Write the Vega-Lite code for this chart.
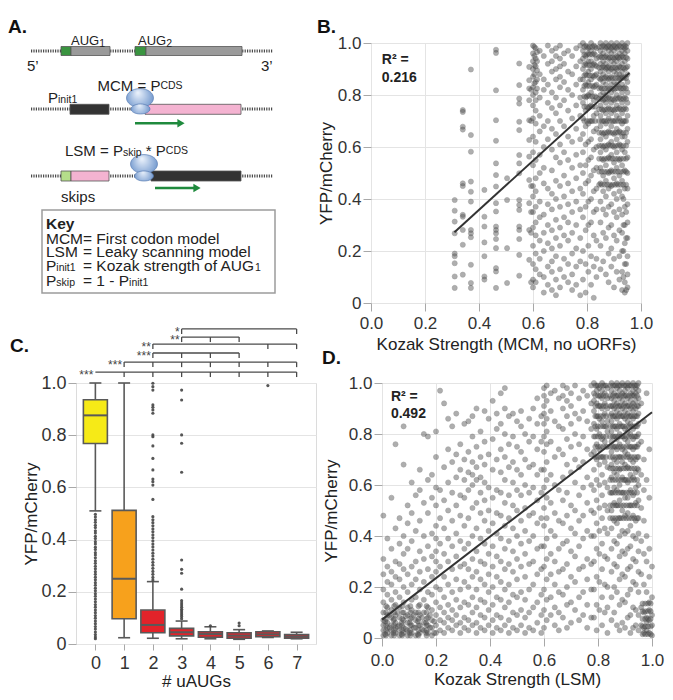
{
  "$schema": "https://vega.github.io/schema/vega-lite/v6.json",
  "background": "white",
  "padding": {"left": 8, "top": 18, "right": 2, "bottom": 2},
  "config": {
    "font": "Liberation Sans",
    "view": {"stroke": null},
    "axis": {
      "domain": false,
      "tickColor": "#a8a8a8",
      "tickSize": 8,
      "labelFontSize": 17,
      "titleFontSize": 17,
      "titleFontWeight": "normal",
      "labelColor": "#333333",
      "titleColor": "#222222",
      "gridColor": "#e4e4e4",
      "labelFlush": false,
      "labelOverlap": false
    }
  },
  "datasets": {
    "lines": [
      {"x": 33, "x2": 275, "y": 51},
      {"x": 33, "x2": 275, "y": 109},
      {"x": 33, "x2": 275, "y": 176}
    ],
    "parts": [
      {"x": 63, "x2": 73, "y": 46.5, "y2": 55.5, "part": "AUG"},
      {"x": 73, "x2": 112, "y": 46.5, "y2": 55.5, "part": "ORF"},
      {"x": 137, "x2": 148, "y": 46.5, "y2": 55.5, "part": "AUG"},
      {"x": 148, "x2": 244, "y": 46.5, "y2": 55.5, "part": "ORF"},
      {"x": 72, "x2": 111, "y": 104.3, "y2": 114.3, "part": "translated"},
      {"x": 147, "x2": 243, "y": 104.3, "y2": 114.3, "part": "scanned"},
      {"x": 63, "x2": 73, "y": 171, "y2": 181, "part": "skipped AUG"},
      {"x": 73, "x2": 111, "y": 171, "y2": 181, "part": "scanned"},
      {"x": 153, "x2": 243, "y": 171, "y2": 181, "part": "translated"}
    ],
    "keybox": [{"x": 44, "x2": 277, "y": 210, "y2": 293}],
    "ribosomes": [
      {"x": 142, "y": 98, "subunit": "large"},
      {"x": 142.5, "y": 109, "subunit": "small"},
      {"x": 146, "y": 164, "subunit": "large"},
      {"x": 146, "y": 176, "subunit": "small"}
    ],
    "arrows": [
      {"x": 137, "x2": 183, "y": 123.3},
      {"x": 157, "x2": 199, "y": 188}
    ],
    "labels": [
      {"role": "panel", "x": 10, "y": 27, "text": "A."},
      {"role": "panel", "x": 12, "y": 346, "text": "C."},
      {"role": "aug", "x": 73, "y": 41, "text": "AUG"},
      {"role": "sub", "x": 101.2, "y": 43.5, "text": "1"},
      {"role": "aug", "x": 140, "y": 41, "text": "AUG"},
      {"role": "sub", "x": 168.2, "y": 43.5, "text": "2"},
      {"role": "main", "x": 29, "y": 66, "text": "5’"},
      {"role": "main", "x": 263, "y": 66, "text": "3’"},
      {"role": "main", "x": 99.5, "y": 86, "text": "MCM = P"},
      {"role": "sub", "x": 162.4, "y": 86, "text": "CDS"},
      {"role": "main", "x": 50, "y": 98, "text": "P"},
      {"role": "sub", "x": 60, "y": 100, "text": "init1"},
      {"role": "main", "x": 67, "y": 151, "text": "LSM = P"},
      {"role": "sub", "x": 124.9, "y": 153, "text": "skip"},
      {"role": "main", "x": 147.8, "y": 151, "text": "* P"},
      {"role": "sub", "x": 167.8, "y": 151, "text": "CDS"},
      {"role": "main", "x": 63, "y": 197, "text": "skips"},
      {"role": "keyTitle", "x": 48, "y": 224, "text": "Key"},
      {"role": "key", "x": 48, "y": 239, "text": "MCM"},
      {"role": "key", "x": 85, "y": 239, "text": "= First codon model"},
      {"role": "key", "x": 48, "y": 252, "text": "LSM"},
      {"role": "key", "x": 85, "y": 252, "text": "= Leaky scanning model"},
      {"role": "key", "x": 48, "y": 266, "text": "P"},
      {"role": "sub", "x": 58.3, "y": 268, "text": "init1"},
      {"role": "key", "x": 85, "y": 266, "text": "= Kozak strength of AUG"},
      {"role": "sub", "x": 257, "y": 268, "text": "1"},
      {"role": "key", "x": 48, "y": 281, "text": "P"},
      {"role": "sub", "x": 58.3, "y": 283, "text": "skip"},
      {"role": "key", "x": 85, "y": 281, "text": "= 1 - P"},
      {"role": "sub", "x": 131.1, "y": 283, "text": "init1"}
    ],
    "fits": [
      {"panel": "B", "x": 0.309, "y": 0.272, "x2": 0.957, "y2": 0.885},
      {"panel": "D", "x": 0.0, "y": 0.072, "x2": 1.0, "y2": 0.885}
    ],
    "boxes": [
      {"n": 0, "lo": 0.51, "q1": 0.768, "med": 0.876, "q3": 0.936, "hi": 1.0},
      {"n": 1, "lo": 0.024, "q1": 0.097, "med": 0.25, "q3": 0.512, "hi": 1.0},
      {"n": 2, "lo": 0.022, "q1": 0.043, "med": 0.073, "q3": 0.13, "hi": 0.239},
      {"n": 3, "lo": 0.02, "q1": 0.031, "med": 0.045, "q3": 0.06, "hi": 0.088},
      {"n": 4, "lo": 0.02, "q1": 0.026, "med": 0.038, "q3": 0.047, "hi": 0.066},
      {"n": 5, "lo": 0.018, "q1": 0.022, "med": 0.032, "q3": 0.043, "hi": 0.055},
      {"n": 6, "lo": 0.025, "q1": 0.028, "med": 0.037, "q3": 0.047, "hi": 0.05},
      {"n": 7, "lo": 0.02, "q1": 0.022, "med": 0.028, "q3": 0.036, "hi": 0.045}
    ],
    "outliers": [
      {"n": 0, "y": 0.497}, {"n": 0, "y": 0.487}, {"n": 0, "y": 0.476}, {"n": 0, "y": 0.466}, {"n": 0, "y": 0.455},
      {"n": 0, "y": 0.446}, {"n": 0, "y": 0.434}, {"n": 0, "y": 0.425}, {"n": 0, "y": 0.413}, {"n": 0, "y": 0.404},
      {"n": 0, "y": 0.392}, {"n": 0, "y": 0.383}, {"n": 0, "y": 0.371}, {"n": 0, "y": 0.362}, {"n": 0, "y": 0.35},
      {"n": 0, "y": 0.341}, {"n": 0, "y": 0.33}, {"n": 0, "y": 0.319}, {"n": 0, "y": 0.309}, {"n": 0, "y": 0.298},
      {"n": 0, "y": 0.288}, {"n": 0, "y": 0.277}, {"n": 0, "y": 0.267}, {"n": 0, "y": 0.256}, {"n": 0, "y": 0.246},
      {"n": 0, "y": 0.235}, {"n": 0, "y": 0.225}, {"n": 0, "y": 0.214}, {"n": 0, "y": 0.204}, {"n": 0, "y": 0.193},
      {"n": 0, "y": 0.183}, {"n": 0, "y": 0.172}, {"n": 0, "y": 0.162}, {"n": 0, "y": 0.151}, {"n": 0, "y": 0.141},
      {"n": 0, "y": 0.13}, {"n": 0, "y": 0.12}, {"n": 0, "y": 0.109}, {"n": 0, "y": 0.099}, {"n": 0, "y": 0.088},
      {"n": 0, "y": 0.078}, {"n": 0, "y": 0.067}, {"n": 0, "y": 0.057}, {"n": 0, "y": 0.046}, {"n": 0, "y": 0.036},
      {"n": 0, "y": 0.027}, {"n": 0, "y": 0.02},
      {"n": 2, "y": 0.999}, {"n": 2, "y": 0.986}, {"n": 2, "y": 0.973}, {"n": 2, "y": 0.916}, {"n": 2, "y": 0.907},
      {"n": 2, "y": 0.897}, {"n": 2, "y": 0.884}, {"n": 2, "y": 0.801}, {"n": 2, "y": 0.794}, {"n": 2, "y": 0.759},
      {"n": 2, "y": 0.711}, {"n": 2, "y": 0.667}, {"n": 2, "y": 0.632}, {"n": 2, "y": 0.622}, {"n": 2, "y": 0.609},
      {"n": 2, "y": 0.554}, {"n": 2, "y": 0.488}, {"n": 2, "y": 0.476}, {"n": 2, "y": 0.465}, {"n": 2, "y": 0.453},
      {"n": 2, "y": 0.441}, {"n": 2, "y": 0.43}, {"n": 2, "y": 0.418}, {"n": 2, "y": 0.407}, {"n": 2, "y": 0.395},
      {"n": 2, "y": 0.383}, {"n": 2, "y": 0.372}, {"n": 2, "y": 0.36}, {"n": 2, "y": 0.348}, {"n": 2, "y": 0.337},
      {"n": 2, "y": 0.325}, {"n": 2, "y": 0.313}, {"n": 2, "y": 0.302}, {"n": 2, "y": 0.29}, {"n": 2, "y": 0.278},
      {"n": 2, "y": 0.267}, {"n": 2, "y": 0.255}, {"n": 2, "y": 0.245},
      {"n": 3, "y": 0.973}, {"n": 3, "y": 0.935}, {"n": 3, "y": 0.801}, {"n": 3, "y": 0.769}, {"n": 3, "y": 0.658},
      {"n": 3, "y": 0.322}, {"n": 3, "y": 0.286}, {"n": 3, "y": 0.271}, {"n": 3, "y": 0.21}, {"n": 3, "y": 0.166},
      {"n": 3, "y": 0.157}, {"n": 3, "y": 0.149}, {"n": 3, "y": 0.141}, {"n": 3, "y": 0.133}, {"n": 3, "y": 0.126},
      {"n": 3, "y": 0.119}, {"n": 3, "y": 0.112}, {"n": 3, "y": 0.105}, {"n": 3, "y": 0.097},
      {"n": 4, "y": 0.07},
      {"n": 5, "y": 0.07}, {"n": 5, "y": 0.08},
      {"n": 6, "y": 0.99}
    ],
    "brackets": [
      {"n": 0, "to": 7, "y": 1.042, "stars": "***"},
      {"n": 1, "to": 7, "y": 1.08, "stars": "***"},
      {"n": 2, "to": 5, "y": 1.115, "stars": "***"},
      {"n": 2, "to": 7, "y": 1.149, "stars": "**"},
      {"n": 3, "to": 5, "y": 1.176, "stars": "**"},
      {"n": 3, "to": 7, "y": 1.207, "stars": "*"}
    ],
    "bracketTicks": [
      {"n": 1, "y": 1.042}, {"n": 2, "y": 1.042}, {"n": 3, "y": 1.042}, {"n": 4, "y": 1.042}, {"n": 5, "y": 1.042}, {"n": 6, "y": 1.042}, {"n": 7, "y": 1.042},
      {"n": 1, "y": 1.08}, {"n": 2, "y": 1.08}, {"n": 3, "y": 1.08}, {"n": 4, "y": 1.08}, {"n": 5, "y": 1.08}, {"n": 6, "y": 1.08}, {"n": 7, "y": 1.08},
      {"n": 2, "y": 1.115}, {"n": 3, "y": 1.115}, {"n": 4, "y": 1.115}, {"n": 5, "y": 1.115},
      {"n": 2, "y": 1.149}, {"n": 6, "y": 1.149}, {"n": 7, "y": 1.149},
      {"n": 3, "y": 1.176}, {"n": 4, "y": 1.176}, {"n": 5, "y": 1.176},
      {"n": 3, "y": 1.207}, {"n": 7, "y": 1.207}
    ],
    "mcm": [
      {"x":0.31,"y":0.396},{"x":0.31,"y":0.355},{"x":0.31,"y":0.313},{"x":0.31,"y":0.268},{"x":0.31,"y":0.19},{"x":0.31,"y":0.18},{"x":0.31,"y":0.153},{"x":0.31,"y":0.102},{"x":0.31,"y":0.058},
      {"x":0.34,"y":0.742},{"x":0.34,"y":0.735},{"x":0.34,"y":0.678},{"x":0.34,"y":0.667},{"x":0.34,"y":0.46},{"x":0.34,"y":0.45},{"x":0.34,"y":0.339},{"x":0.34,"y":0.332},{"x":0.34,"y":0.281},{"x":0.34,"y":0.224},{"x":0.34,"y":0.109},
      {"x":0.37,"y":0.898},{"x":0.37,"y":0.646},{"x":0.37,"y":0.582},{"x":0.37,"y":0.467},{"x":0.37,"y":0.428},{"x":0.37,"y":0.39},{"x":0.37,"y":0.281},{"x":0.37,"y":0.268},{"x":0.37,"y":0.253},{"x":0.37,"y":0.147},{"x":0.37,"y":0.077},{"x":0.37,"y":0.058},
      {"x":0.42,"y":0.435},{"x":0.42,"y":0.332},{"x":0.42,"y":0.294},{"x":0.42,"y":0.233},{"x":0.42,"y":0.18},{"x":0.42,"y":0.102},{"x":0.42,"y":0.09},
      {"x":0.463,"y":0.974},{"x":0.463,"y":0.962},{"x":0.463,"y":0.818},{"x":0.463,"y":0.703},{"x":0.463,"y":0.624},{"x":0.463,"y":0.537},{"x":0.463,"y":0.492},{"x":0.463,"y":0.448},{"x":0.463,"y":0.384},{"x":0.463,"y":0.352},{"x":0.463,"y":0.294},{"x":0.463,"y":0.281},{"x":0.463,"y":0.268},{"x":0.463,"y":0.246},{"x":0.463,"y":0.211},{"x":0.463,"y":0.134},{"x":0.463,"y":0.121},{"x":0.463,"y":0.058},
      {"x":0.504,"y":0.48},{"x":0.504,"y":0.396},{"x":0.504,"y":0.211},{"x":0.504,"y":0.077},
      {"x":0.549,"y":0.921},{"x":0.549,"y":0.838},{"x":0.549,"y":0.786},{"x":0.549,"y":0.767},{"x":0.549,"y":0.697},{"x":0.549,"y":0.665},{"x":0.549,"y":0.569},{"x":0.549,"y":0.537},{"x":0.549,"y":0.499},{"x":0.549,"y":0.396},{"x":0.549,"y":0.377},{"x":0.549,"y":0.358},{"x":0.549,"y":0.294},{"x":0.549,"y":0.281},{"x":0.549,"y":0.246},{"x":0.549,"y":0.185},{"x":0.549,"y":0.105},
      {"x":0.586,"y":0.908},{"x":0.586,"y":0.857},{"x":0.586,"y":0.825},{"x":0.586,"y":0.78},{"x":0.586,"y":0.703},{"x":0.586,"y":0.627},{"x":0.586,"y":0.563},{"x":0.586,"y":0.473},{"x":0.586,"y":0.384},{"x":0.586,"y":0.281},{"x":0.586,"y":0.166},
      {"x":0.593,"y":0.82},{"x":0.593,"y":0.7},{"x":0.593,"y":0.45},{"x":0.593,"y":0.35},{"x":0.593,"y":0.27},{"x":0.593,"y":0.08},
      {"x":0.6,"y":0.99},{"x":0.6,"y":0.96},{"x":0.6,"y":0.93},{"x":0.6,"y":0.9},{"x":0.6,"y":0.87},{"x":0.6,"y":0.83},{"x":0.6,"y":0.8},{"x":0.6,"y":0.76},{"x":0.6,"y":0.71},{"x":0.6,"y":0.64},{"x":0.6,"y":0.58},{"x":0.6,"y":0.53},{"x":0.6,"y":0.45},{"x":0.6,"y":0.41},{"x":0.6,"y":0.35},{"x":0.6,"y":0.29},{"x":0.6,"y":0.22},{"x":0.6,"y":0.15},{"x":0.6,"y":0.09},{"x":0.6,"y":0.06},
      {"x":0.61,"y":0.98},{"x":0.61,"y":0.94},{"x":0.61,"y":0.91},{"x":0.61,"y":0.85},{"x":0.61,"y":0.81},{"x":0.61,"y":0.78},{"x":0.61,"y":0.74},{"x":0.61,"y":0.69},{"x":0.61,"y":0.62},{"x":0.61,"y":0.55},{"x":0.61,"y":0.48},{"x":0.61,"y":0.43},{"x":0.61,"y":0.37},{"x":0.61,"y":0.31},{"x":0.61,"y":0.26},{"x":0.61,"y":0.19},{"x":0.61,"y":0.13},{"x":0.61,"y":0.08},
      {"x":0.605,"y":0.985},{"x":0.605,"y":0.95},{"x":0.605,"y":0.915},{"x":0.605,"y":0.88},{"x":0.605,"y":0.845},{"x":0.615,"y":0.965},{"x":0.615,"y":0.93},{"x":0.615,"y":0.895},{"x":0.615,"y":0.86},{"x":0.615,"y":0.825},
      {"x":0.625,"y":0.97},{"x":0.625,"y":0.88},{"x":0.625,"y":0.79},{"x":0.625,"y":0.72},{"x":0.625,"y":0.66},{"x":0.625,"y":0.57},{"x":0.625,"y":0.5},{"x":0.625,"y":0.39},{"x":0.625,"y":0.33},{"x":0.625,"y":0.24},{"x":0.625,"y":0.17},{"x":0.625,"y":0.11},
      {"x":0.64,"y":0.95},{"x":0.64,"y":0.86},{"x":0.64,"y":0.82},{"x":0.64,"y":0.68},{"x":0.64,"y":0.6},{"x":0.64,"y":0.52},{"x":0.64,"y":0.46},{"x":0.64,"y":0.34},{"x":0.64,"y":0.27},{"x":0.64,"y":0.2},{"x":0.64,"y":0.1},{"x":0.64,"y":0.04},
      {"x":0.655,"y":0.99},{"x":0.655,"y":0.92},{"x":0.655,"y":0.84},{"x":0.655,"y":0.77},{"x":0.655,"y":0.7},{"x":0.655,"y":0.63},{"x":0.655,"y":0.44},{"x":0.655,"y":0.38},{"x":0.655,"y":0.3},{"x":0.655,"y":0.23},{"x":0.655,"y":0.14},{"x":0.655,"y":0.07},
      {"x":0.67,"y":0.97},{"x":0.67,"y":0.93},{"x":0.67,"y":0.89},{"x":0.67,"y":0.81},{"x":0.67,"y":0.75},{"x":0.67,"y":0.67},{"x":0.67,"y":0.59},{"x":0.67,"y":0.51},{"x":0.67,"y":0.42},{"x":0.67,"y":0.36},{"x":0.67,"y":0.28},{"x":0.67,"y":0.21},{"x":0.67,"y":0.16},{"x":0.67,"y":0.12},{"x":0.67,"y":0.05},
      {"x":0.685,"y":0.98},{"x":0.685,"y":0.95},{"x":0.685,"y":0.9},{"x":0.685,"y":0.86},{"x":0.685,"y":0.79},{"x":0.685,"y":0.73},{"x":0.685,"y":0.65},{"x":0.685,"y":0.56},{"x":0.685,"y":0.47},{"x":0.685,"y":0.4},{"x":0.685,"y":0.32},{"x":0.685,"y":0.25},{"x":0.685,"y":0.18},{"x":0.685,"y":0.09},{"x":0.685,"y":0.03},
      {"x":0.7,"y":0.99},{"x":0.7,"y":0.94},{"x":0.7,"y":0.91},{"x":0.7,"y":0.87},{"x":0.7,"y":0.83},{"x":0.7,"y":0.76},{"x":0.7,"y":0.7},{"x":0.7,"y":0.61},{"x":0.7,"y":0.54},{"x":0.7,"y":0.45},{"x":0.7,"y":0.37},{"x":0.7,"y":0.29},{"x":0.7,"y":0.22},{"x":0.7,"y":0.13},{"x":0.7,"y":0.06},
      {"x":0.715,"y":0.96},{"x":0.715,"y":0.92},{"x":0.715,"y":0.85},{"x":0.715,"y":0.78},{"x":0.715,"y":0.68},{"x":0.715,"y":0.58},{"x":0.715,"y":0.49},{"x":0.715,"y":0.41},{"x":0.715,"y":0.33},{"x":0.715,"y":0.26},{"x":0.715,"y":0.17},{"x":0.715,"y":0.1},
      {"x":0.73,"y":0.97},{"x":0.73,"y":0.89},{"x":0.73,"y":0.82},{"x":0.73,"y":0.74},{"x":0.73,"y":0.64},{"x":0.73,"y":0.55},{"x":0.73,"y":0.46},{"x":0.73,"y":0.38},{"x":0.73,"y":0.31},{"x":0.73,"y":0.24},{"x":0.73,"y":0.15},{"x":0.73,"y":0.08},
      {"x":0.745,"y":0.95},{"x":0.745,"y":0.88},{"x":0.745,"y":0.8},{"x":0.745,"y":0.71},{"x":0.745,"y":0.62},{"x":0.745,"y":0.52},{"x":0.745,"y":0.43},{"x":0.745,"y":0.35},{"x":0.745,"y":0.27},{"x":0.745,"y":0.19},{"x":0.745,"y":0.11},{"x":0.745,"y":0.05},
      {"x":0.76,"y":0.98},{"x":0.76,"y":0.91},{"x":0.76,"y":0.84},{"x":0.76,"y":0.76},{"x":0.76,"y":0.67},{"x":0.76,"y":0.57},{"x":0.76,"y":0.48},{"x":0.76,"y":0.39},{"x":0.76,"y":0.3},{"x":0.76,"y":0.21},{"x":0.76,"y":0.14},{"x":0.76,"y":0.07},
      {"x":0.775,"y":0.99},{"x":0.775,"y":0.93},{"x":0.775,"y":0.86},{"x":0.775,"y":0.79},{"x":0.775,"y":0.72},{"x":0.775,"y":0.63},{"x":0.775,"y":0.53},{"x":0.775,"y":0.44},{"x":0.775,"y":0.36},{"x":0.775,"y":0.25},{"x":0.775,"y":0.16},{"x":0.775,"y":0.03},
      {"x":0.785,"y":1.0},{"x":0.785,"y":0.97},{"x":0.785,"y":0.94},{"x":0.785,"y":0.9},{"x":0.785,"y":0.86},{"x":0.785,"y":0.82},{"x":0.785,"y":0.77},{"x":0.785,"y":0.71},{"x":0.785,"y":0.65},{"x":0.785,"y":0.58},{"x":0.785,"y":0.5},{"x":0.785,"y":0.42},{"x":0.785,"y":0.33},{"x":0.785,"y":0.2},{"x":0.785,"y":0.09},
      {"x":0.795,"y":0.99},{"x":0.795,"y":0.95},{"x":0.795,"y":0.92},{"x":0.795,"y":0.88},{"x":0.795,"y":0.84},{"x":0.795,"y":0.79},{"x":0.795,"y":0.74},{"x":0.795,"y":0.68},{"x":0.795,"y":0.61},{"x":0.795,"y":0.53},{"x":0.795,"y":0.46},{"x":0.795,"y":0.37},{"x":0.795,"y":0.28},{"x":0.795,"y":0.15},{"x":0.795,"y":0.04},
      {"x":0.805,"y":0.98},{"x":0.805,"y":0.96},{"x":0.805,"y":0.93},{"x":0.805,"y":0.89},{"x":0.805,"y":0.85},{"x":0.805,"y":0.8},{"x":0.805,"y":0.75},{"x":0.805,"y":0.69},{"x":0.805,"y":0.62},{"x":0.805,"y":0.55},{"x":0.805,"y":0.47},{"x":0.805,"y":0.39},{"x":0.805,"y":0.3},{"x":0.805,"y":0.22},{"x":0.805,"y":0.12},
      {"x":0.815,"y":1.0},{"x":0.815,"y":0.97},{"x":0.815,"y":0.93},{"x":0.815,"y":0.9},{"x":0.815,"y":0.86},{"x":0.815,"y":0.81},{"x":0.815,"y":0.76},{"x":0.815,"y":0.7},{"x":0.815,"y":0.63},{"x":0.815,"y":0.56},{"x":0.815,"y":0.49},{"x":0.815,"y":0.4},{"x":0.815,"y":0.31},{"x":0.815,"y":0.18},{"x":0.815,"y":0.07},
      {"x":0.825,"y":0.99},{"x":0.825,"y":0.96},{"x":0.825,"y":0.92},{"x":0.825,"y":0.87},{"x":0.825,"y":0.83},{"x":0.825,"y":0.78},{"x":0.825,"y":0.72},{"x":0.825,"y":0.66},{"x":0.825,"y":0.59},{"x":0.825,"y":0.51},{"x":0.825,"y":0.43},{"x":0.825,"y":0.35},{"x":0.825,"y":0.26},{"x":0.825,"y":0.14},{"x":0.825,"y":0.02},
      {"x":0.835,"y":0.98},{"x":0.835,"y":0.94},{"x":0.835,"y":0.91},{"x":0.835,"y":0.88},{"x":0.835,"y":0.84},{"x":0.835,"y":0.79},{"x":0.835,"y":0.73},{"x":0.835,"y":0.67},{"x":0.835,"y":0.6},{"x":0.835,"y":0.52},{"x":0.835,"y":0.44},{"x":0.835,"y":0.36},{"x":0.835,"y":0.24},{"x":0.835,"y":0.17},{"x":0.835,"y":0.1},
      {"x":0.79,"y":0.985},{"x":0.79,"y":0.955},{"x":0.79,"y":0.915},{"x":0.79,"y":0.875},{"x":0.79,"y":0.835},{"x":0.79,"y":0.795},{"x":0.79,"y":0.755},{"x":0.79,"y":0.7},
      {"x":0.8,"y":0.985},{"x":0.8,"y":0.955},{"x":0.8,"y":0.915},{"x":0.8,"y":0.875},{"x":0.8,"y":0.835},{"x":0.8,"y":0.795},{"x":0.8,"y":0.755},{"x":0.8,"y":0.7},
      {"x":0.81,"y":0.985},{"x":0.81,"y":0.955},{"x":0.81,"y":0.915},{"x":0.81,"y":0.875},{"x":0.81,"y":0.835},{"x":0.81,"y":0.795},{"x":0.81,"y":0.755},{"x":0.81,"y":0.7},
      {"x":0.82,"y":0.985},{"x":0.82,"y":0.955},{"x":0.82,"y":0.915},{"x":0.82,"y":0.875},{"x":0.82,"y":0.835},{"x":0.82,"y":0.795},{"x":0.82,"y":0.755},{"x":0.82,"y":0.7},
      {"x":0.83,"y":0.985},{"x":0.83,"y":0.955},{"x":0.83,"y":0.915},{"x":0.83,"y":0.875},{"x":0.83,"y":0.835},{"x":0.83,"y":0.795},{"x":0.83,"y":0.755},{"x":0.83,"y":0.7},
      {"x":0.85,"y":1.0},{"x":0.85,"y":0.97},{"x":0.85,"y":0.95},{"x":0.85,"y":0.92},{"x":0.85,"y":0.89},{"x":0.85,"y":0.86},{"x":0.85,"y":0.83},{"x":0.85,"y":0.8},{"x":0.85,"y":0.76},{"x":0.85,"y":0.72},{"x":0.85,"y":0.68},{"x":0.85,"y":0.63},{"x":0.85,"y":0.58},{"x":0.85,"y":0.52},{"x":0.85,"y":0.46},{"x":0.85,"y":0.39},{"x":0.85,"y":0.31},{"x":0.85,"y":0.22},{"x":0.85,"y":0.13},
      {"x":0.86,"y":0.99},{"x":0.86,"y":0.96},{"x":0.86,"y":0.93},{"x":0.86,"y":0.91},{"x":0.86,"y":0.88},{"x":0.86,"y":0.85},{"x":0.86,"y":0.81},{"x":0.86,"y":0.78},{"x":0.86,"y":0.74},{"x":0.86,"y":0.7},{"x":0.86,"y":0.65},{"x":0.86,"y":0.6},{"x":0.86,"y":0.55},{"x":0.86,"y":0.49},{"x":0.86,"y":0.43},{"x":0.86,"y":0.36},{"x":0.86,"y":0.27},{"x":0.86,"y":0.16},
      {"x":0.87,"y":1.0},{"x":0.87,"y":0.98},{"x":0.87,"y":0.95},{"x":0.87,"y":0.92},{"x":0.87,"y":0.9},{"x":0.87,"y":0.87},{"x":0.87,"y":0.84},{"x":0.87,"y":0.8},{"x":0.87,"y":0.77},{"x":0.87,"y":0.73},{"x":0.87,"y":0.69},{"x":0.87,"y":0.64},{"x":0.87,"y":0.59},{"x":0.87,"y":0.53},{"x":0.87,"y":0.47},{"x":0.87,"y":0.41},{"x":0.87,"y":0.34},{"x":0.87,"y":0.25},{"x":0.87,"y":0.11},
      {"x":0.88,"y":0.99},{"x":0.88,"y":0.97},{"x":0.88,"y":0.94},{"x":0.88,"y":0.91},{"x":0.88,"y":0.89},{"x":0.88,"y":0.86},{"x":0.88,"y":0.82},{"x":0.88,"y":0.79},{"x":0.88,"y":0.75},{"x":0.88,"y":0.71},{"x":0.88,"y":0.66},{"x":0.88,"y":0.61},{"x":0.88,"y":0.56},{"x":0.88,"y":0.5},{"x":0.88,"y":0.44},{"x":0.88,"y":0.37},{"x":0.88,"y":0.29},{"x":0.88,"y":0.19},{"x":0.88,"y":0.08},
      {"x":0.89,"y":1.0},{"x":0.89,"y":0.98},{"x":0.89,"y":0.96},{"x":0.89,"y":0.93},{"x":0.89,"y":0.9},{"x":0.89,"y":0.87},{"x":0.89,"y":0.84},{"x":0.89,"y":0.81},{"x":0.89,"y":0.77},{"x":0.89,"y":0.73},{"x":0.89,"y":0.68},{"x":0.89,"y":0.62},{"x":0.89,"y":0.57},{"x":0.89,"y":0.51},{"x":0.89,"y":0.45},{"x":0.89,"y":0.38},{"x":0.89,"y":0.3},{"x":0.89,"y":0.21},{"x":0.89,"y":0.14},
      {"x":0.9,"y":0.99},{"x":0.9,"y":0.97},{"x":0.9,"y":0.94},{"x":0.9,"y":0.92},{"x":0.9,"y":0.89},{"x":0.9,"y":0.85},{"x":0.9,"y":0.82},{"x":0.9,"y":0.78},{"x":0.9,"y":0.74},{"x":0.9,"y":0.7},{"x":0.9,"y":0.65},{"x":0.9,"y":0.6},{"x":0.9,"y":0.54},{"x":0.9,"y":0.48},{"x":0.9,"y":0.42},{"x":0.9,"y":0.35},{"x":0.9,"y":0.26},{"x":0.9,"y":0.17},{"x":0.9,"y":0.06},
      {"x":0.91,"y":1.0},{"x":0.91,"y":0.98},{"x":0.91,"y":0.95},{"x":0.91,"y":0.93},{"x":0.91,"y":0.9},{"x":0.91,"y":0.88},{"x":0.91,"y":0.84},{"x":0.91,"y":0.8},{"x":0.91,"y":0.76},{"x":0.91,"y":0.72},{"x":0.91,"y":0.67},{"x":0.91,"y":0.63},{"x":0.91,"y":0.58},{"x":0.91,"y":0.52},{"x":0.91,"y":0.46},{"x":0.91,"y":0.4},{"x":0.91,"y":0.33},{"x":0.91,"y":0.24},{"x":0.91,"y":0.12},
      {"x":0.92,"y":0.99},{"x":0.92,"y":0.96},{"x":0.92,"y":0.94},{"x":0.92,"y":0.91},{"x":0.92,"y":0.88},{"x":0.92,"y":0.86},{"x":0.92,"y":0.83},{"x":0.92,"y":0.79},{"x":0.92,"y":0.75},{"x":0.92,"y":0.71},{"x":0.92,"y":0.66},{"x":0.92,"y":0.61},{"x":0.92,"y":0.55},{"x":0.92,"y":0.49},{"x":0.92,"y":0.43},{"x":0.92,"y":0.36},{"x":0.92,"y":0.28},{"x":0.92,"y":0.18},{"x":0.92,"y":0.09},
      {"x":0.93,"y":1.0},{"x":0.93,"y":0.97},{"x":0.93,"y":0.95},{"x":0.93,"y":0.92},{"x":0.93,"y":0.89},{"x":0.93,"y":0.87},{"x":0.93,"y":0.84},{"x":0.93,"y":0.81},{"x":0.93,"y":0.77},{"x":0.93,"y":0.73},{"x":0.93,"y":0.69},{"x":0.93,"y":0.64},{"x":0.93,"y":0.59},{"x":0.93,"y":0.53},{"x":0.93,"y":0.47},{"x":0.93,"y":0.41},{"x":0.93,"y":0.34},{"x":0.93,"y":0.27},{"x":0.93,"y":0.2},{"x":0.93,"y":0.12},{"x":0.93,"y":0.05},
      {"x":0.94,"y":0.99},{"x":0.94,"y":0.98},{"x":0.94,"y":0.96},{"x":0.94,"y":0.93},{"x":0.94,"y":0.9},{"x":0.94,"y":0.87},{"x":0.94,"y":0.83},{"x":0.94,"y":0.79},{"x":0.94,"y":0.75},{"x":0.94,"y":0.7},{"x":0.94,"y":0.64},{"x":0.94,"y":0.58},{"x":0.94,"y":0.51},{"x":0.94,"y":0.44},{"x":0.94,"y":0.37},{"x":0.94,"y":0.3},{"x":0.94,"y":0.23},{"x":0.94,"y":0.15},{"x":0.94,"y":0.08},{"x":0.94,"y":0.04},
      {"x":0.95,"y":1.0},{"x":0.95,"y":0.97},{"x":0.95,"y":0.94},{"x":0.95,"y":0.91},{"x":0.95,"y":0.88},{"x":0.95,"y":0.85},{"x":0.95,"y":0.81},{"x":0.95,"y":0.77},{"x":0.95,"y":0.72},{"x":0.95,"y":0.67},{"x":0.95,"y":0.62},{"x":0.95,"y":0.56},{"x":0.95,"y":0.5},{"x":0.95,"y":0.44},{"x":0.95,"y":0.38},{"x":0.95,"y":0.31},{"x":0.95,"y":0.25},{"x":0.95,"y":0.18},{"x":0.95,"y":0.11},{"x":0.95,"y":0.06},
      {"x":0.845,"y":0.985},{"x":0.845,"y":0.945},{"x":0.845,"y":0.905},{"x":0.845,"y":0.865},{"x":0.845,"y":0.825},{"x":0.845,"y":0.785},{"x":0.845,"y":0.745},{"x":0.845,"y":0.7},{"x":0.845,"y":0.655},{"x":0.845,"y":0.605},{"x":0.845,"y":0.555},{"x":0.845,"y":0.505},{"x":0.845,"y":0.455},
      {"x":0.855,"y":0.985},{"x":0.855,"y":0.945},{"x":0.855,"y":0.905},{"x":0.855,"y":0.865},{"x":0.855,"y":0.825},{"x":0.855,"y":0.785},{"x":0.855,"y":0.745},{"x":0.855,"y":0.7},{"x":0.855,"y":0.655},{"x":0.855,"y":0.605},{"x":0.855,"y":0.555},{"x":0.855,"y":0.505},{"x":0.855,"y":0.455},
      {"x":0.865,"y":0.985},{"x":0.865,"y":0.945},{"x":0.865,"y":0.905},{"x":0.865,"y":0.865},{"x":0.865,"y":0.825},{"x":0.865,"y":0.785},{"x":0.865,"y":0.745},{"x":0.865,"y":0.7},{"x":0.865,"y":0.655},{"x":0.865,"y":0.605},{"x":0.865,"y":0.555},{"x":0.865,"y":0.505},{"x":0.865,"y":0.455},
      {"x":0.875,"y":0.985},{"x":0.875,"y":0.945},{"x":0.875,"y":0.905},{"x":0.875,"y":0.865},{"x":0.875,"y":0.825},{"x":0.875,"y":0.785},{"x":0.875,"y":0.745},{"x":0.875,"y":0.7},{"x":0.875,"y":0.655},{"x":0.875,"y":0.605},{"x":0.875,"y":0.555},{"x":0.875,"y":0.505},{"x":0.875,"y":0.455},
      {"x":0.885,"y":0.985},{"x":0.885,"y":0.945},{"x":0.885,"y":0.905},{"x":0.885,"y":0.865},{"x":0.885,"y":0.825},{"x":0.885,"y":0.785},{"x":0.885,"y":0.745},{"x":0.885,"y":0.7},{"x":0.885,"y":0.655},{"x":0.885,"y":0.605},{"x":0.885,"y":0.555},{"x":0.885,"y":0.505},{"x":0.885,"y":0.455},
      {"x":0.895,"y":0.985},{"x":0.895,"y":0.945},{"x":0.895,"y":0.905},{"x":0.895,"y":0.865},{"x":0.895,"y":0.825},{"x":0.895,"y":0.785},{"x":0.895,"y":0.745},{"x":0.895,"y":0.7},{"x":0.895,"y":0.655},{"x":0.895,"y":0.605},{"x":0.895,"y":0.555},{"x":0.895,"y":0.505},{"x":0.895,"y":0.455},
      {"x":0.905,"y":0.985},{"x":0.905,"y":0.945},{"x":0.905,"y":0.905},{"x":0.905,"y":0.865},{"x":0.905,"y":0.825},{"x":0.905,"y":0.785},{"x":0.905,"y":0.745},{"x":0.905,"y":0.7},{"x":0.905,"y":0.655},{"x":0.905,"y":0.605},{"x":0.905,"y":0.555},{"x":0.905,"y":0.505},{"x":0.905,"y":0.455},
      {"x":0.915,"y":0.985},{"x":0.915,"y":0.945},{"x":0.915,"y":0.905},{"x":0.915,"y":0.865},{"x":0.915,"y":0.825},{"x":0.915,"y":0.785},{"x":0.915,"y":0.745},{"x":0.915,"y":0.7},{"x":0.915,"y":0.655},{"x":0.915,"y":0.605},{"x":0.915,"y":0.555},{"x":0.915,"y":0.505},{"x":0.915,"y":0.455},
      {"x":0.925,"y":0.985},{"x":0.925,"y":0.945},{"x":0.925,"y":0.905},{"x":0.925,"y":0.865},{"x":0.925,"y":0.825},{"x":0.925,"y":0.785},{"x":0.925,"y":0.745},{"x":0.925,"y":0.7},{"x":0.925,"y":0.655},{"x":0.925,"y":0.605},{"x":0.925,"y":0.555},{"x":0.925,"y":0.505},{"x":0.925,"y":0.455},
      {"x":0.935,"y":0.985},{"x":0.935,"y":0.945},{"x":0.935,"y":0.905},{"x":0.935,"y":0.865},{"x":0.935,"y":0.825},{"x":0.935,"y":0.785},{"x":0.935,"y":0.745},{"x":0.935,"y":0.7},{"x":0.935,"y":0.655},{"x":0.935,"y":0.605},{"x":0.935,"y":0.555},{"x":0.935,"y":0.505},{"x":0.935,"y":0.455},{"x":0.935,"y":0.4},{"x":0.935,"y":0.3},{"x":0.935,"y":0.2},{"x":0.935,"y":0.1},
      {"x":0.945,"y":0.985},{"x":0.945,"y":0.945},{"x":0.945,"y":0.905},{"x":0.945,"y":0.865},{"x":0.945,"y":0.825},{"x":0.945,"y":0.785},{"x":0.945,"y":0.745},{"x":0.945,"y":0.7},{"x":0.945,"y":0.655},{"x":0.945,"y":0.605},{"x":0.945,"y":0.555},{"x":0.945,"y":0.505},{"x":0.945,"y":0.455},{"x":0.945,"y":0.35},{"x":0.945,"y":0.25},{"x":0.945,"y":0.15},{"x":0.945,"y":0.05}
    ],
    "lsm": [
      {"x":0.005,"y":0.01},{"x":0.005,"y":0.03},{"x":0.005,"y":0.05},{"x":0.005,"y":0.07},{"x":0.005,"y":0.1},{"x":0.005,"y":0.14},{"x":0.005,"y":0.19},{"x":0.005,"y":0.25},{"x":0.005,"y":0.31},{"x":0.005,"y":0.48},
      {"x":0.02,"y":0.02},{"x":0.02,"y":0.04},{"x":0.02,"y":0.06},{"x":0.02,"y":0.09},{"x":0.02,"y":0.12},{"x":0.02,"y":0.17},{"x":0.02,"y":0.22},{"x":0.02,"y":0.28},{"x":0.02,"y":0.39},
      {"x":0.035,"y":0.01},{"x":0.035,"y":0.03},{"x":0.035,"y":0.05},{"x":0.035,"y":0.08},{"x":0.035,"y":0.11},{"x":0.035,"y":0.15},{"x":0.035,"y":0.21},{"x":0.035,"y":0.26},{"x":0.035,"y":0.35},{"x":0.035,"y":0.55},
      {"x":0.05,"y":0.02},{"x":0.05,"y":0.04},{"x":0.05,"y":0.06},{"x":0.05,"y":0.09},{"x":0.05,"y":0.13},{"x":0.05,"y":0.18},{"x":0.05,"y":0.24},{"x":0.05,"y":0.3},{"x":0.05,"y":0.43},{"x":0.05,"y":0.76},
      {"x":0.065,"y":0.01},{"x":0.065,"y":0.03},{"x":0.065,"y":0.05},{"x":0.065,"y":0.08},{"x":0.065,"y":0.12},{"x":0.065,"y":0.16},{"x":0.065,"y":0.23},{"x":0.065,"y":0.29},{"x":0.065,"y":0.37},{"x":0.065,"y":0.47},
      {"x":0.08,"y":0.02},{"x":0.08,"y":0.04},{"x":0.08,"y":0.07},{"x":0.08,"y":0.1},{"x":0.08,"y":0.14},{"x":0.08,"y":0.2},{"x":0.08,"y":0.27},{"x":0.08,"y":0.33},{"x":0.08,"y":0.4},{"x":0.08,"y":0.68},{"x":0.08,"y":0.83},
      {"x":0.095,"y":0.01},{"x":0.095,"y":0.03},{"x":0.095,"y":0.06},{"x":0.095,"y":0.09},{"x":0.095,"y":0.12},{"x":0.095,"y":0.18},{"x":0.095,"y":0.25},{"x":0.095,"y":0.35},{"x":0.095,"y":0.45},{"x":0.095,"y":0.52},
      {"x":0.11,"y":0.02},{"x":0.11,"y":0.05},{"x":0.11,"y":0.08},{"x":0.11,"y":0.11},{"x":0.11,"y":0.15},{"x":0.11,"y":0.21},{"x":0.11,"y":0.28},{"x":0.11,"y":0.38},{"x":0.11,"y":0.49},{"x":0.11,"y":0.61},
      {"x":0.125,"y":0.01},{"x":0.125,"y":0.04},{"x":0.125,"y":0.07},{"x":0.125,"y":0.1},{"x":0.125,"y":0.16},{"x":0.125,"y":0.23},{"x":0.125,"y":0.3},{"x":0.125,"y":0.42},{"x":0.125,"y":0.56},
      {"x":0.14,"y":0.02},{"x":0.14,"y":0.05},{"x":0.14,"y":0.09},{"x":0.14,"y":0.13},{"x":0.14,"y":0.19},{"x":0.14,"y":0.26},{"x":0.14,"y":0.34},{"x":0.14,"y":0.46},{"x":0.14,"y":0.58},{"x":0.14,"y":0.66},
      {"x":0.155,"y":0.03},{"x":0.155,"y":0.06},{"x":0.155,"y":0.1},{"x":0.155,"y":0.15},{"x":0.155,"y":0.22},{"x":0.155,"y":0.31},{"x":0.155,"y":0.4},{"x":0.155,"y":0.53},{"x":0.155,"y":0.8},
      {"x":0.17,"y":0.02},{"x":0.17,"y":0.05},{"x":0.17,"y":0.08},{"x":0.17,"y":0.12},{"x":0.17,"y":0.18},{"x":0.17,"y":0.27},{"x":0.17,"y":0.36},{"x":0.17,"y":0.49},{"x":0.17,"y":0.62},{"x":0.17,"y":0.79},
      {"x":0.185,"y":0.01},{"x":0.185,"y":0.04},{"x":0.185,"y":0.07},{"x":0.185,"y":0.11},{"x":0.185,"y":0.17},{"x":0.185,"y":0.24},{"x":0.185,"y":0.32},{"x":0.185,"y":0.41},{"x":0.185,"y":0.55},{"x":0.185,"y":0.64},
      {"x":0.2,"y":0.02},{"x":0.2,"y":0.05},{"x":0.2,"y":0.09},{"x":0.2,"y":0.14},{"x":0.2,"y":0.2},{"x":0.2,"y":0.26},{"x":0.2,"y":0.3},{"x":0.2,"y":0.34},{"x":0.2,"y":0.39},{"x":0.2,"y":0.44},{"x":0.2,"y":0.52},{"x":0.2,"y":0.59},{"x":0.2,"y":0.71},{"x":0.2,"y":0.81},
      {"x":0.012,"y":0.015},{"x":0.012,"y":0.065},{"x":0.028,"y":0.04},{"x":0.028,"y":0.09},{"x":0.043,"y":0.02},{"x":0.043,"y":0.07},{"x":0.058,"y":0.045},{"x":0.058,"y":0.1},{"x":0.073,"y":0.015},{"x":0.073,"y":0.06},
      {"x":0.088,"y":0.035},{"x":0.088,"y":0.085},{"x":0.103,"y":0.02},{"x":0.103,"y":0.06},{"x":0.118,"y":0.04},{"x":0.118,"y":0.09},{"x":0.133,"y":0.015},{"x":0.133,"y":0.065},{"x":0.148,"y":0.035},{"x":0.148,"y":0.08},
      {"x":0.163,"y":0.02},{"x":0.163,"y":0.06},{"x":0.178,"y":0.04},{"x":0.178,"y":0.09},{"x":0.193,"y":0.02},{"x":0.193,"y":0.065},
      {"x":0.015,"y":0.01},{"x":0.015,"y":0.03},{"x":0.015,"y":0.05},{"x":0.015,"y":0.075},{"x":0.015,"y":0.1},{"x":0.015,"y":0.125},
      {"x":0.045,"y":0.01},{"x":0.045,"y":0.03},{"x":0.045,"y":0.05},{"x":0.045,"y":0.075},{"x":0.045,"y":0.1},{"x":0.045,"y":0.125},
      {"x":0.075,"y":0.01},{"x":0.075,"y":0.03},{"x":0.075,"y":0.05},{"x":0.075,"y":0.075},{"x":0.075,"y":0.1},{"x":0.075,"y":0.125},
      {"x":0.105,"y":0.01},{"x":0.105,"y":0.03},{"x":0.105,"y":0.05},{"x":0.105,"y":0.075},{"x":0.105,"y":0.1},{"x":0.105,"y":0.125},
      {"x":0.135,"y":0.01},{"x":0.135,"y":0.03},{"x":0.135,"y":0.05},{"x":0.135,"y":0.075},{"x":0.135,"y":0.1},{"x":0.135,"y":0.125},
      {"x":0.165,"y":0.01},{"x":0.165,"y":0.03},{"x":0.165,"y":0.05},{"x":0.165,"y":0.075},{"x":0.165,"y":0.1},{"x":0.165,"y":0.125},
      {"x":0.215,"y":0.03},{"x":0.215,"y":0.07},{"x":0.215,"y":0.12},{"x":0.215,"y":0.19},{"x":0.215,"y":0.28},{"x":0.215,"y":0.37},{"x":0.215,"y":0.47},{"x":0.215,"y":0.58},{"x":0.215,"y":0.97},
      {"x":0.23,"y":0.02},{"x":0.23,"y":0.06},{"x":0.23,"y":0.1},{"x":0.23,"y":0.16},{"x":0.23,"y":0.24},{"x":0.23,"y":0.33},{"x":0.23,"y":0.43},{"x":0.23,"y":0.54},{"x":0.23,"y":0.67},{"x":0.23,"y":0.92},
      {"x":0.245,"y":0.04},{"x":0.245,"y":0.08},{"x":0.245,"y":0.13},{"x":0.245,"y":0.21},{"x":0.245,"y":0.3},{"x":0.245,"y":0.39},{"x":0.245,"y":0.5},{"x":0.245,"y":0.61},{"x":0.245,"y":0.74},{"x":0.245,"y":0.86},
      {"x":0.26,"y":0.03},{"x":0.26,"y":0.07},{"x":0.26,"y":0.11},{"x":0.26,"y":0.18},{"x":0.26,"y":0.27},{"x":0.26,"y":0.36},{"x":0.26,"y":0.46},{"x":0.26,"y":0.57},{"x":0.26,"y":0.69},{"x":0.26,"y":0.83},
      {"x":0.275,"y":0.05},{"x":0.275,"y":0.09},{"x":0.275,"y":0.15},{"x":0.275,"y":0.23},{"x":0.275,"y":0.32},{"x":0.275,"y":0.41},{"x":0.275,"y":0.52},{"x":0.275,"y":0.63},{"x":0.275,"y":0.72},{"x":0.275,"y":0.88},
      {"x":0.29,"y":0.02},{"x":0.29,"y":0.06},{"x":0.29,"y":0.12},{"x":0.29,"y":0.19},{"x":0.29,"y":0.28},{"x":0.29,"y":0.38},{"x":0.29,"y":0.48},{"x":0.29,"y":0.56},{"x":0.29,"y":0.66},{"x":0.29,"y":0.76},
      {"x":0.305,"y":0.04},{"x":0.305,"y":0.08},{"x":0.305,"y":0.14},{"x":0.305,"y":0.22},{"x":0.305,"y":0.29},{"x":0.305,"y":0.35},{"x":0.305,"y":0.44},{"x":0.305,"y":0.55},{"x":0.305,"y":0.62},{"x":0.305,"y":0.7},{"x":0.305,"y":0.84},
      {"x":0.32,"y":0.03},{"x":0.32,"y":0.07},{"x":0.32,"y":0.13},{"x":0.32,"y":0.2},{"x":0.32,"y":0.27},{"x":0.32,"y":0.37},{"x":0.32,"y":0.47},{"x":0.32,"y":0.58},{"x":0.32,"y":0.65},{"x":0.32,"y":0.73},{"x":0.32,"y":0.85},
      {"x":0.335,"y":0.05},{"x":0.335,"y":0.1},{"x":0.335,"y":0.16},{"x":0.335,"y":0.24},{"x":0.335,"y":0.31},{"x":0.335,"y":0.4},{"x":0.335,"y":0.51},{"x":0.335,"y":0.6},{"x":0.335,"y":0.64},{"x":0.335,"y":0.69},{"x":0.335,"y":0.79},{"x":0.335,"y":0.87},
      {"x":0.35,"y":0.02},{"x":0.35,"y":0.06},{"x":0.35,"y":0.12},{"x":0.35,"y":0.19},{"x":0.35,"y":0.26},{"x":0.35,"y":0.34},{"x":0.35,"y":0.43},{"x":0.35,"y":0.53},{"x":0.35,"y":0.62},{"x":0.35,"y":0.67},{"x":0.35,"y":0.75},{"x":0.35,"y":0.9},
      {"x":0.365,"y":0.04},{"x":0.365,"y":0.09},{"x":0.365,"y":0.15},{"x":0.365,"y":0.23},{"x":0.365,"y":0.3},{"x":0.365,"y":0.39},{"x":0.365,"y":0.49},{"x":0.365,"y":0.57},{"x":0.365,"y":0.63},{"x":0.365,"y":0.71},{"x":0.365,"y":0.81},
      {"x":0.38,"y":0.03},{"x":0.38,"y":0.08},{"x":0.38,"y":0.14},{"x":0.38,"y":0.21},{"x":0.38,"y":0.29},{"x":0.38,"y":0.37},{"x":0.38,"y":0.46},{"x":0.38,"y":0.54},{"x":0.38,"y":0.61},{"x":0.38,"y":0.68},{"x":0.38,"y":0.77},{"x":0.38,"y":0.89},
      {"x":0.395,"y":0.05},{"x":0.395,"y":0.11},{"x":0.395,"y":0.18},{"x":0.395,"y":0.25},{"x":0.395,"y":0.33},{"x":0.395,"y":0.42},{"x":0.395,"y":0.5},{"x":0.395,"y":0.59},{"x":0.395,"y":0.72},{"x":0.395,"y":0.86},
      {"x":0.41,"y":0.02},{"x":0.41,"y":0.07},{"x":0.41,"y":0.13},{"x":0.41,"y":0.2},{"x":0.41,"y":0.28},{"x":0.41,"y":0.36},{"x":0.41,"y":0.45},{"x":0.41,"y":0.55},{"x":0.41,"y":0.66},{"x":0.41,"y":0.78},{"x":0.41,"y":0.93},
      {"x":0.425,"y":0.04},{"x":0.425,"y":0.09},{"x":0.425,"y":0.16},{"x":0.425,"y":0.24},{"x":0.425,"y":0.32},{"x":0.425,"y":0.41},{"x":0.425,"y":0.49},{"x":0.425,"y":0.58},{"x":0.425,"y":0.7},{"x":0.425,"y":0.82},{"x":0.425,"y":0.88},
      {"x":0.44,"y":0.03},{"x":0.44,"y":0.08},{"x":0.44,"y":0.15},{"x":0.44,"y":0.22},{"x":0.44,"y":0.3},{"x":0.44,"y":0.39},{"x":0.44,"y":0.48},{"x":0.44,"y":0.57},{"x":0.44,"y":0.65},{"x":0.44,"y":0.74},{"x":0.44,"y":0.84},{"x":0.44,"y":0.96},
      {"x":0.455,"y":0.05},{"x":0.455,"y":0.12},{"x":0.455,"y":0.19},{"x":0.455,"y":0.27},{"x":0.455,"y":0.35},{"x":0.455,"y":0.44},{"x":0.455,"y":0.53},{"x":0.455,"y":0.62},{"x":0.455,"y":0.71},{"x":0.455,"y":0.8},{"x":0.455,"y":0.9},{"x":0.455,"y":0.98},
      {"x":0.47,"y":0.02},{"x":0.47,"y":0.07},{"x":0.47,"y":0.14},{"x":0.47,"y":0.21},{"x":0.47,"y":0.29},{"x":0.47,"y":0.38},{"x":0.47,"y":0.47},{"x":0.47,"y":0.56},{"x":0.47,"y":0.67},{"x":0.47,"y":0.76},{"x":0.47,"y":0.87},
      {"x":0.485,"y":0.04},{"x":0.485,"y":0.1},{"x":0.485,"y":0.17},{"x":0.485,"y":0.26},{"x":0.485,"y":0.34},{"x":0.485,"y":0.43},{"x":0.485,"y":0.52},{"x":0.485,"y":0.61},{"x":0.485,"y":0.69},{"x":0.485,"y":0.79},{"x":0.485,"y":0.88},
      {"x":0.5,"y":0.03},{"x":0.5,"y":0.09},{"x":0.5,"y":0.16},{"x":0.5,"y":0.23},{"x":0.5,"y":0.31},{"x":0.5,"y":0.4},{"x":0.5,"y":0.5},{"x":0.5,"y":0.58},{"x":0.5,"y":0.66},{"x":0.5,"y":0.75},{"x":0.5,"y":0.85},
      {"x":0.515,"y":0.05},{"x":0.515,"y":0.11},{"x":0.515,"y":0.18},{"x":0.515,"y":0.28},{"x":0.515,"y":0.37},{"x":0.515,"y":0.46},{"x":0.515,"y":0.56},{"x":0.515,"y":0.64},{"x":0.515,"y":0.73},{"x":0.515,"y":0.83},{"x":0.515,"y":0.89},
      {"x":0.53,"y":0.02},{"x":0.53,"y":0.08},{"x":0.53,"y":0.15},{"x":0.53,"y":0.24},{"x":0.53,"y":0.33},{"x":0.53,"y":0.42},{"x":0.53,"y":0.51},{"x":0.53,"y":0.6},{"x":0.53,"y":0.7},{"x":0.53,"y":0.8},
      {"x":0.545,"y":0.04},{"x":0.545,"y":0.1},{"x":0.545,"y":0.19},{"x":0.545,"y":0.29},{"x":0.545,"y":0.38},{"x":0.545,"y":0.48},{"x":0.545,"y":0.57},{"x":0.545,"y":0.67},{"x":0.545,"y":0.77},{"x":0.545,"y":0.86},
      {"x":0.56,"y":0.03},{"x":0.56,"y":0.12},{"x":0.56,"y":0.21},{"x":0.56,"y":0.3},{"x":0.56,"y":0.4},{"x":0.56,"y":0.49},{"x":0.56,"y":0.59},{"x":0.56,"y":0.68},{"x":0.56,"y":0.79},{"x":0.56,"y":0.9},
      {"x":0.575,"y":0.06},{"x":0.575,"y":0.14},{"x":0.575,"y":0.25},{"x":0.575,"y":0.35},{"x":0.575,"y":0.45},{"x":0.575,"y":0.54},{"x":0.575,"y":0.64},{"x":0.575,"y":0.74},{"x":0.575,"y":0.84},{"x":0.575,"y":0.94},
      {"x":0.59,"y":0.02},{"x":0.59,"y":0.09},{"x":0.59,"y":0.17},{"x":0.59,"y":0.27},{"x":0.59,"y":0.36},{"x":0.59,"y":0.47},{"x":0.59,"y":0.57},{"x":0.59,"y":0.66},{"x":0.59,"y":0.77},{"x":0.59,"y":0.87},
      {"x":0.6,"y":0.98},{"x":0.6,"y":0.95},{"x":0.6,"y":0.91},{"x":0.6,"y":0.88},{"x":0.6,"y":0.84},{"x":0.6,"y":0.79},{"x":0.6,"y":0.73},{"x":0.6,"y":0.66},{"x":0.6,"y":0.59},{"x":0.6,"y":0.51},{"x":0.6,"y":0.44},{"x":0.6,"y":0.36},{"x":0.6,"y":0.28},{"x":0.6,"y":0.19},{"x":0.6,"y":0.11},{"x":0.6,"y":0.04},
      {"x":0.61,"y":0.99},{"x":0.61,"y":0.93},{"x":0.61,"y":0.86},{"x":0.61,"y":0.81},{"x":0.61,"y":0.76},{"x":0.61,"y":0.69},{"x":0.61,"y":0.62},{"x":0.61,"y":0.55},{"x":0.61,"y":0.47},{"x":0.61,"y":0.39},{"x":0.61,"y":0.31},{"x":0.61,"y":0.23},{"x":0.61,"y":0.15},{"x":0.61,"y":0.07},
      {"x":0.625,"y":0.96},{"x":0.625,"y":0.89},{"x":0.625,"y":0.77},{"x":0.625,"y":0.64},{"x":0.625,"y":0.53},{"x":0.625,"y":0.42},{"x":0.625,"y":0.33},{"x":0.625,"y":0.25},{"x":0.625,"y":0.16},{"x":0.625,"y":0.09},
      {"x":0.64,"y":0.97},{"x":0.64,"y":0.85},{"x":0.64,"y":0.71},{"x":0.64,"y":0.6},{"x":0.64,"y":0.49},{"x":0.64,"y":0.4},{"x":0.64,"y":0.3},{"x":0.64,"y":0.21},{"x":0.64,"y":0.12},{"x":0.64,"y":0.05},
      {"x":0.655,"y":0.94},{"x":0.655,"y":0.83},{"x":0.655,"y":0.74},{"x":0.655,"y":0.58},{"x":0.655,"y":0.46},{"x":0.655,"y":0.35},{"x":0.655,"y":0.26},{"x":0.655,"y":0.18},{"x":0.655,"y":0.1},{"x":0.655,"y":0.03},
      {"x":0.67,"y":0.99},{"x":0.67,"y":0.95},{"x":0.67,"y":0.9},{"x":0.67,"y":0.82},{"x":0.67,"y":0.72},{"x":0.67,"y":0.63},{"x":0.67,"y":0.54},{"x":0.67,"y":0.45},{"x":0.67,"y":0.37},{"x":0.67,"y":0.27},{"x":0.67,"y":0.17},{"x":0.67,"y":0.08},
      {"x":0.685,"y":0.98},{"x":0.685,"y":0.93},{"x":0.685,"y":0.87},{"x":0.685,"y":0.78},{"x":0.685,"y":0.68},{"x":0.685,"y":0.57},{"x":0.685,"y":0.48},{"x":0.685,"y":0.38},{"x":0.685,"y":0.29},{"x":0.685,"y":0.2},{"x":0.685,"y":0.13},{"x":0.685,"y":0.04},
      {"x":0.7,"y":0.96},{"x":0.7,"y":0.91},{"x":0.7,"y":0.84},{"x":0.7,"y":0.75},{"x":0.7,"y":0.65},{"x":0.7,"y":0.52},{"x":0.7,"y":0.43},{"x":0.7,"y":0.34},{"x":0.7,"y":0.24},{"x":0.7,"y":0.14},{"x":0.7,"y":0.06},
      {"x":0.715,"y":0.99},{"x":0.715,"y":0.88},{"x":0.715,"y":0.8},{"x":0.715,"y":0.7},{"x":0.715,"y":0.61},{"x":0.715,"y":0.5},{"x":0.715,"y":0.41},{"x":0.715,"y":0.32},{"x":0.715,"y":0.22},{"x":0.715,"y":0.11},
      {"x":0.73,"y":0.94},{"x":0.73,"y":0.86},{"x":0.73,"y":0.76},{"x":0.73,"y":0.67},{"x":0.73,"y":0.56},{"x":0.73,"y":0.46},{"x":0.73,"y":0.36},{"x":0.73,"y":0.27},{"x":0.73,"y":0.16},{"x":0.73,"y":0.07},
      {"x":0.745,"y":0.97},{"x":0.745,"y":0.89},{"x":0.745,"y":0.79},{"x":0.745,"y":0.69},{"x":0.745,"y":0.59},{"x":0.745,"y":0.48},{"x":0.745,"y":0.39},{"x":0.745,"y":0.28},{"x":0.745,"y":0.18},{"x":0.745,"y":0.09},
      {"x":0.76,"y":0.95},{"x":0.76,"y":0.85},{"x":0.76,"y":0.74},{"x":0.76,"y":0.63},{"x":0.76,"y":0.53},{"x":0.76,"y":0.42},{"x":0.76,"y":0.31},{"x":0.76,"y":0.23},{"x":0.76,"y":0.13},{"x":0.76,"y":0.04},
      {"x":0.775,"y":0.99},{"x":0.775,"y":0.92},{"x":0.775,"y":0.82},{"x":0.775,"y":0.72},{"x":0.775,"y":0.6},{"x":0.775,"y":0.5},{"x":0.775,"y":0.4},{"x":0.775,"y":0.29},{"x":0.775,"y":0.19},{"x":0.775,"y":0.08},
      {"x":0.785,"y":1.0},{"x":0.785,"y":0.96},{"x":0.785,"y":0.93},{"x":0.785,"y":0.89},{"x":0.785,"y":0.84},{"x":0.785,"y":0.79},{"x":0.785,"y":0.73},{"x":0.785,"y":0.66},{"x":0.785,"y":0.58},{"x":0.785,"y":0.49},{"x":0.785,"y":0.4},{"x":0.785,"y":0.3},{"x":0.785,"y":0.19},{"x":0.785,"y":0.08},
      {"x":0.795,"y":0.99},{"x":0.795,"y":0.97},{"x":0.795,"y":0.92},{"x":0.795,"y":0.87},{"x":0.795,"y":0.82},{"x":0.795,"y":0.76},{"x":0.795,"y":0.7},{"x":0.795,"y":0.62},{"x":0.795,"y":0.54},{"x":0.795,"y":0.45},{"x":0.795,"y":0.35},{"x":0.795,"y":0.24},{"x":0.795,"y":0.13},{"x":0.795,"y":0.03},
      {"x":0.805,"y":0.98},{"x":0.805,"y":0.95},{"x":0.805,"y":0.91},{"x":0.805,"y":0.86},{"x":0.805,"y":0.8},{"x":0.805,"y":0.74},{"x":0.805,"y":0.68},{"x":0.805,"y":0.6},{"x":0.805,"y":0.51},{"x":0.805,"y":0.42},{"x":0.805,"y":0.33},{"x":0.805,"y":0.22},{"x":0.805,"y":0.11},
      {"x":0.815,"y":1.0},{"x":0.815,"y":0.97},{"x":0.815,"y":0.94},{"x":0.815,"y":0.9},{"x":0.815,"y":0.85},{"x":0.815,"y":0.78},{"x":0.815,"y":0.71},{"x":0.815,"y":0.64},{"x":0.815,"y":0.56},{"x":0.815,"y":0.47},{"x":0.815,"y":0.37},{"x":0.815,"y":0.27},{"x":0.815,"y":0.16},{"x":0.815,"y":0.05},
      {"x":0.825,"y":0.99},{"x":0.825,"y":0.96},{"x":0.825,"y":0.92},{"x":0.825,"y":0.88},{"x":0.825,"y":0.83},{"x":0.825,"y":0.77},{"x":0.825,"y":0.69},{"x":0.825,"y":0.61},{"x":0.825,"y":0.52},{"x":0.825,"y":0.43},{"x":0.825,"y":0.32},{"x":0.825,"y":0.21},{"x":0.825,"y":0.1},
      {"x":0.835,"y":0.98},{"x":0.835,"y":0.94},{"x":0.835,"y":0.9},{"x":0.835,"y":0.85},{"x":0.835,"y":0.81},{"x":0.835,"y":0.75},{"x":0.835,"y":0.67},{"x":0.835,"y":0.59},{"x":0.835,"y":0.5},{"x":0.835,"y":0.41},{"x":0.835,"y":0.31},{"x":0.835,"y":0.2},{"x":0.835,"y":0.12},{"x":0.835,"y":0.02},
      {"x":0.79,"y":0.99},{"x":0.79,"y":0.95},{"x":0.79,"y":0.91},{"x":0.79,"y":0.87},{"x":0.79,"y":0.83},{"x":0.79,"y":0.79},{"x":0.79,"y":0.75},{"x":0.79,"y":0.71},
      {"x":0.8,"y":0.99},{"x":0.8,"y":0.95},{"x":0.8,"y":0.91},{"x":0.8,"y":0.87},{"x":0.8,"y":0.83},{"x":0.8,"y":0.79},{"x":0.8,"y":0.75},{"x":0.8,"y":0.71},
      {"x":0.81,"y":0.99},{"x":0.81,"y":0.95},{"x":0.81,"y":0.91},{"x":0.81,"y":0.87},{"x":0.81,"y":0.83},{"x":0.81,"y":0.79},{"x":0.81,"y":0.75},{"x":0.81,"y":0.71},
      {"x":0.82,"y":0.99},{"x":0.82,"y":0.95},{"x":0.82,"y":0.91},{"x":0.82,"y":0.87},{"x":0.82,"y":0.83},{"x":0.82,"y":0.79},{"x":0.82,"y":0.75},{"x":0.82,"y":0.71},
      {"x":0.83,"y":0.99},{"x":0.83,"y":0.95},{"x":0.83,"y":0.91},{"x":0.83,"y":0.87},{"x":0.83,"y":0.83},{"x":0.83,"y":0.79},{"x":0.83,"y":0.75},{"x":0.83,"y":0.71},
      {"x":0.85,"y":1.0},{"x":0.85,"y":0.97},{"x":0.85,"y":0.94},{"x":0.85,"y":0.91},{"x":0.85,"y":0.88},{"x":0.85,"y":0.85},{"x":0.85,"y":0.81},{"x":0.85,"y":0.77},{"x":0.85,"y":0.73},{"x":0.85,"y":0.68},{"x":0.85,"y":0.63},{"x":0.85,"y":0.57},{"x":0.85,"y":0.5},{"x":0.85,"y":0.43},{"x":0.85,"y":0.35},{"x":0.85,"y":0.26},{"x":0.85,"y":0.16},{"x":0.85,"y":0.07},
      {"x":0.86,"y":0.99},{"x":0.86,"y":0.96},{"x":0.86,"y":0.93},{"x":0.86,"y":0.9},{"x":0.86,"y":0.87},{"x":0.86,"y":0.83},{"x":0.86,"y":0.79},{"x":0.86,"y":0.75},{"x":0.86,"y":0.7},{"x":0.86,"y":0.65},{"x":0.86,"y":0.59},{"x":0.86,"y":0.53},{"x":0.86,"y":0.46},{"x":0.86,"y":0.38},{"x":0.86,"y":0.29},{"x":0.86,"y":0.2},{"x":0.86,"y":0.1},
      {"x":0.87,"y":1.0},{"x":0.87,"y":0.98},{"x":0.87,"y":0.95},{"x":0.87,"y":0.92},{"x":0.87,"y":0.89},{"x":0.87,"y":0.86},{"x":0.87,"y":0.82},{"x":0.87,"y":0.78},{"x":0.87,"y":0.74},{"x":0.87,"y":0.69},{"x":0.87,"y":0.64},{"x":0.87,"y":0.58},{"x":0.87,"y":0.52},{"x":0.87,"y":0.45},{"x":0.87,"y":0.37},{"x":0.87,"y":0.28},{"x":0.87,"y":0.18},{"x":0.87,"y":0.05},
      {"x":0.88,"y":0.99},{"x":0.88,"y":0.97},{"x":0.88,"y":0.94},{"x":0.88,"y":0.91},{"x":0.88,"y":0.88},{"x":0.88,"y":0.84},{"x":0.88,"y":0.8},{"x":0.88,"y":0.76},{"x":0.88,"y":0.71},{"x":0.88,"y":0.66},{"x":0.88,"y":0.6},{"x":0.88,"y":0.54},{"x":0.88,"y":0.47},{"x":0.88,"y":0.4},{"x":0.88,"y":0.32},{"x":0.88,"y":0.23},{"x":0.88,"y":0.13},{"x":0.88,"y":0.03},
      {"x":0.89,"y":1.0},{"x":0.89,"y":0.96},{"x":0.89,"y":0.93},{"x":0.89,"y":0.9},{"x":0.89,"y":0.87},{"x":0.89,"y":0.83},{"x":0.89,"y":0.79},{"x":0.89,"y":0.74},{"x":0.89,"y":0.69},{"x":0.89,"y":0.63},{"x":0.89,"y":0.57},{"x":0.89,"y":0.5},{"x":0.89,"y":0.42},{"x":0.89,"y":0.34},{"x":0.89,"y":0.25},{"x":0.89,"y":0.15},{"x":0.89,"y":0.06},
      {"x":0.9,"y":0.99},{"x":0.9,"y":0.97},{"x":0.9,"y":0.95},{"x":0.9,"y":0.92},{"x":0.9,"y":0.89},{"x":0.9,"y":0.86},{"x":0.9,"y":0.82},{"x":0.9,"y":0.78},{"x":0.9,"y":0.73},{"x":0.9,"y":0.68},{"x":0.9,"y":0.62},{"x":0.9,"y":0.55},{"x":0.9,"y":0.48},{"x":0.9,"y":0.41},{"x":0.9,"y":0.33},{"x":0.9,"y":0.24},{"x":0.9,"y":0.14},{"x":0.9,"y":0.04},
      {"x":0.91,"y":1.0},{"x":0.91,"y":0.98},{"x":0.91,"y":0.94},{"x":0.91,"y":0.91},{"x":0.91,"y":0.88},{"x":0.91,"y":0.85},{"x":0.91,"y":0.81},{"x":0.91,"y":0.77},{"x":0.91,"y":0.72},{"x":0.91,"y":0.67},{"x":0.91,"y":0.61},{"x":0.91,"y":0.55},{"x":0.91,"y":0.49},{"x":0.91,"y":0.42},{"x":0.91,"y":0.35},{"x":0.91,"y":0.27},{"x":0.91,"y":0.17},{"x":0.91,"y":0.08},
      {"x":0.92,"y":0.99},{"x":0.92,"y":0.96},{"x":0.92,"y":0.93},{"x":0.92,"y":0.9},{"x":0.92,"y":0.87},{"x":0.92,"y":0.84},{"x":0.92,"y":0.8},{"x":0.92,"y":0.75},{"x":0.92,"y":0.7},{"x":0.92,"y":0.64},{"x":0.92,"y":0.58},{"x":0.92,"y":0.52},{"x":0.92,"y":0.44},{"x":0.92,"y":0.36},{"x":0.92,"y":0.28},{"x":0.92,"y":0.19},{"x":0.92,"y":0.09},{"x":0.92,"y":0.02},
      {"x":0.93,"y":1.0},{"x":0.93,"y":0.97},{"x":0.93,"y":0.95},{"x":0.93,"y":0.92},{"x":0.93,"y":0.89},{"x":0.93,"y":0.86},{"x":0.93,"y":0.82},{"x":0.93,"y":0.78},{"x":0.93,"y":0.74},{"x":0.93,"y":0.69},{"x":0.93,"y":0.63},{"x":0.93,"y":0.56},{"x":0.93,"y":0.48},{"x":0.93,"y":0.4},{"x":0.93,"y":0.31},{"x":0.93,"y":0.22},{"x":0.93,"y":0.12},{"x":0.93,"y":0.04},
      {"x":0.94,"y":0.99},{"x":0.94,"y":0.98},{"x":0.94,"y":0.96},{"x":0.94,"y":0.93},{"x":0.94,"y":0.9},{"x":0.94,"y":0.87},{"x":0.94,"y":0.83},{"x":0.94,"y":0.79},{"x":0.94,"y":0.75},{"x":0.94,"y":0.7},{"x":0.94,"y":0.65},{"x":0.94,"y":0.59},{"x":0.94,"y":0.53},{"x":0.94,"y":0.46},{"x":0.94,"y":0.39},{"x":0.94,"y":0.3},{"x":0.94,"y":0.21},{"x":0.94,"y":0.11},{"x":0.94,"y":0.05},
      {"x":0.95,"y":1.0},{"x":0.95,"y":0.97},{"x":0.95,"y":0.94},{"x":0.95,"y":0.91},{"x":0.95,"y":0.88},{"x":0.95,"y":0.84},{"x":0.95,"y":0.8},{"x":0.95,"y":0.76},{"x":0.95,"y":0.71},{"x":0.95,"y":0.66},{"x":0.95,"y":0.6},{"x":0.95,"y":0.54},{"x":0.95,"y":0.47},{"x":0.95,"y":0.41},{"x":0.95,"y":0.34},{"x":0.95,"y":0.26},{"x":0.95,"y":0.18},{"x":0.95,"y":0.09},{"x":0.95,"y":0.03},
      {"x":0.845,"y":0.99},{"x":0.845,"y":0.95},{"x":0.845,"y":0.91},{"x":0.845,"y":0.87},{"x":0.845,"y":0.83},{"x":0.845,"y":0.79},{"x":0.845,"y":0.75},{"x":0.845,"y":0.71},{"x":0.845,"y":0.665},{"x":0.845,"y":0.62},{"x":0.845,"y":0.57},{"x":0.845,"y":0.52},{"x":0.845,"y":0.47},
      {"x":0.855,"y":0.99},{"x":0.855,"y":0.95},{"x":0.855,"y":0.91},{"x":0.855,"y":0.87},{"x":0.855,"y":0.83},{"x":0.855,"y":0.79},{"x":0.855,"y":0.75},{"x":0.855,"y":0.71},{"x":0.855,"y":0.665},{"x":0.855,"y":0.62},{"x":0.855,"y":0.57},{"x":0.855,"y":0.52},{"x":0.855,"y":0.47},
      {"x":0.865,"y":0.99},{"x":0.865,"y":0.95},{"x":0.865,"y":0.91},{"x":0.865,"y":0.87},{"x":0.865,"y":0.83},{"x":0.865,"y":0.79},{"x":0.865,"y":0.75},{"x":0.865,"y":0.71},{"x":0.865,"y":0.665},{"x":0.865,"y":0.62},{"x":0.865,"y":0.57},{"x":0.865,"y":0.52},{"x":0.865,"y":0.47},
      {"x":0.875,"y":0.99},{"x":0.875,"y":0.95},{"x":0.875,"y":0.91},{"x":0.875,"y":0.87},{"x":0.875,"y":0.83},{"x":0.875,"y":0.79},{"x":0.875,"y":0.75},{"x":0.875,"y":0.71},{"x":0.875,"y":0.665},{"x":0.875,"y":0.62},{"x":0.875,"y":0.57},{"x":0.875,"y":0.52},{"x":0.875,"y":0.47},
      {"x":0.885,"y":0.99},{"x":0.885,"y":0.95},{"x":0.885,"y":0.91},{"x":0.885,"y":0.87},{"x":0.885,"y":0.83},{"x":0.885,"y":0.79},{"x":0.885,"y":0.75},{"x":0.885,"y":0.71},{"x":0.885,"y":0.665},{"x":0.885,"y":0.62},{"x":0.885,"y":0.57},{"x":0.885,"y":0.52},{"x":0.885,"y":0.47},
      {"x":0.895,"y":0.99},{"x":0.895,"y":0.95},{"x":0.895,"y":0.91},{"x":0.895,"y":0.87},{"x":0.895,"y":0.83},{"x":0.895,"y":0.79},{"x":0.895,"y":0.75},{"x":0.895,"y":0.71},{"x":0.895,"y":0.665},{"x":0.895,"y":0.62},{"x":0.895,"y":0.57},{"x":0.895,"y":0.52},{"x":0.895,"y":0.47},
      {"x":0.905,"y":0.99},{"x":0.905,"y":0.95},{"x":0.905,"y":0.91},{"x":0.905,"y":0.87},{"x":0.905,"y":0.83},{"x":0.905,"y":0.79},{"x":0.905,"y":0.75},{"x":0.905,"y":0.71},{"x":0.905,"y":0.665},{"x":0.905,"y":0.62},{"x":0.905,"y":0.57},{"x":0.905,"y":0.52},{"x":0.905,"y":0.47},
      {"x":0.915,"y":0.99},{"x":0.915,"y":0.95},{"x":0.915,"y":0.91},{"x":0.915,"y":0.87},{"x":0.915,"y":0.83},{"x":0.915,"y":0.79},{"x":0.915,"y":0.75},{"x":0.915,"y":0.71},{"x":0.915,"y":0.665},{"x":0.915,"y":0.62},{"x":0.915,"y":0.57},{"x":0.915,"y":0.52},{"x":0.915,"y":0.47},
      {"x":0.925,"y":0.99},{"x":0.925,"y":0.95},{"x":0.925,"y":0.91},{"x":0.925,"y":0.87},{"x":0.925,"y":0.83},{"x":0.925,"y":0.79},{"x":0.925,"y":0.75},{"x":0.925,"y":0.71},{"x":0.925,"y":0.665},{"x":0.925,"y":0.62},{"x":0.925,"y":0.57},{"x":0.925,"y":0.52},{"x":0.925,"y":0.47},
      {"x":0.935,"y":0.99},{"x":0.935,"y":0.95},{"x":0.935,"y":0.91},{"x":0.935,"y":0.87},{"x":0.935,"y":0.83},{"x":0.935,"y":0.79},{"x":0.935,"y":0.75},{"x":0.935,"y":0.71},{"x":0.935,"y":0.665},{"x":0.935,"y":0.62},{"x":0.935,"y":0.57},{"x":0.935,"y":0.52},{"x":0.935,"y":0.47},
      {"x":0.945,"y":0.99},{"x":0.945,"y":0.95},{"x":0.945,"y":0.91},{"x":0.945,"y":0.87},{"x":0.945,"y":0.83},{"x":0.945,"y":0.79},{"x":0.945,"y":0.75},{"x":0.945,"y":0.71},{"x":0.945,"y":0.665},{"x":0.945,"y":0.62},{"x":0.945,"y":0.57},{"x":0.945,"y":0.52},{"x":0.945,"y":0.47},
      {"x":0.96,"y":0.92},{"x":0.96,"y":0.77},{"x":0.96,"y":0.64},{"x":0.96,"y":0.51},{"x":0.96,"y":0.38},{"x":0.96,"y":0.25},{"x":0.96,"y":0.12},{"x":0.96,"y":0.05},
      {"x":0.97,"y":0.85},{"x":0.97,"y":0.7},{"x":0.97,"y":0.58},{"x":0.97,"y":0.46},{"x":0.97,"y":0.33},{"x":0.97,"y":0.21},{"x":0.97,"y":0.1},{"x":0.97,"y":0.04},{"x":0.97,"y":0.02},
      {"x":0.98,"y":0.96},{"x":0.98,"y":0.62},{"x":0.98,"y":0.4},{"x":0.98,"y":0.3},{"x":0.98,"y":0.18},{"x":0.98,"y":0.08},{"x":0.98,"y":0.03},{"x":0.98,"y":0.06},
      {"x":0.99,"y":0.74},{"x":0.99,"y":0.55},{"x":0.99,"y":0.35},{"x":0.99,"y":0.24},{"x":0.99,"y":0.14},{"x":0.99,"y":0.07},{"x":0.99,"y":0.02},{"x":0.99,"y":0.11},
      {"x":1.0,"y":0.28},{"x":1.0,"y":0.16},{"x":1.0,"y":0.09},{"x":1.0,"y":0.05},{"x":1.0,"y":0.01},
      {"x":0.965,"y":0.015},{"x":0.965,"y":0.045},{"x":0.965,"y":0.075},{"x":0.965,"y":0.105},{"x":0.965,"y":0.135},
      {"x":0.975,"y":0.015},{"x":0.975,"y":0.045},{"x":0.975,"y":0.075},{"x":0.975,"y":0.105},{"x":0.975,"y":0.135},
      {"x":0.985,"y":0.015},{"x":0.985,"y":0.045},{"x":0.985,"y":0.075},{"x":0.985,"y":0.105},{"x":0.985,"y":0.135},
      {"x":0.995,"y":0.015},{"x":0.995,"y":0.045},{"x":0.995,"y":0.075},{"x":0.995,"y":0.105},{"x":0.995,"y":0.135}
    ]
  },
  "concat": [
    {
      "width": 240,
      "height": 260,
      "encoding": {
        "x": {"field": "x", "type": "quantitative", "scale": {"domain": [78, 318], "nice": false, "zero": false}, "axis": null},
        "y": {"field": "y", "type": "quantitative", "scale": {"domain": [43, 303], "range": [0, 260], "nice": false, "zero": false}, "axis": null}
      },
      "layer": [
        {
          "data": {"name": "lines"},
          "mark": {"type": "rule", "color": "#4a4a4a", "strokeWidth": 3, "strokeDash": [1.2, 1.2]},
          "encoding": {"x2": {"field": "x2"}}
        },
        {
          "data": {"name": "parts"},
          "mark": {"type": "rect", "stroke": "#555555", "strokeWidth": 0.8},
          "encoding": {
            "x2": {"field": "x2"},
            "y2": {"field": "y2"},
            "color": {
              "field": "part",
              "type": "nominal",
              "scale": {"domain": ["AUG", "ORF", "scanned", "translated", "skipped AUG"], "range": ["#3a9440", "#9a9a9a", "#f4b3d1", "#333333", "#b5de8a"]},
              "legend": null
            }
          }
        },
        {
          "data": {"name": "keybox"},
          "mark": {"type": "rect", "fill": "white", "stroke": "#9c9c9c", "strokeWidth": 1.5},
          "encoding": {"x2": {"field": "x2"}, "y2": {"field": "y2"}}
        },
        {
          "data": {"name": "ribosomes"},
          "transform": [{"filter": "datum.subunit == 'large'"}],
          "mark": {
            "type": "point",
            "filled": true,
            "size": 729,
            "shape": "M-1,0A1,0.7 0 1,1 1,0A1,0.7 0 1,1 -1,0Z",
            "fill": {"gradient": "radial", "x1": 0.42, "y1": 0.3, "r1": 0.02, "x2": 0.5, "y2": 0.5, "r2": 0.62, "stops": [{"offset": 0, "color": "#eaf1fb"}, {"offset": 1, "color": "#5d89c6"}]},
            "stroke": "#4f74ad",
            "strokeWidth": 0.6,
            "opacity": 1
          }
        },
        {
          "data": {"name": "ribosomes"},
          "transform": [{"filter": "datum.subunit == 'small'"}],
          "mark": {
            "type": "point",
            "filled": true,
            "size": 361,
            "shape": "M-1,0A1,0.53 0 1,1 1,0A1,0.53 0 1,1 -1,0Z",
            "fill": {"gradient": "radial", "x1": 0.45, "y1": 0.3, "r1": 0.02, "x2": 0.5, "y2": 0.5, "r2": 0.62, "stops": [{"offset": 0, "color": "#e4edf9"}, {"offset": 1, "color": "#5a86c4"}]},
            "stroke": "#4f74ad",
            "strokeWidth": 0.6,
            "opacity": 1
          }
        },
        {
          "data": {"name": "arrows"},
          "mark": {"type": "rule", "color": "#1f8a3d", "strokeWidth": 2.5},
          "encoding": {"x2": {"field": "x2"}}
        },
        {
          "data": {"name": "arrows"},
          "mark": {"type": "point", "shape": "triangle-right", "filled": true, "size": 70, "color": "#1f8a3d", "opacity": 1},
          "encoding": {"x": {"field": "x2", "type": "quantitative"}}
        },
        {
          "data": {"name": "labels"},
          "transform": [{"filter": "datum.role == 'panel'"}],
          "mark": {"type": "text", "align": "left", "fontSize": 19, "fontWeight": "bold", "color": "#111111"},
          "encoding": {"text": {"field": "text"}}
        },
        {
          "data": {"name": "labels"},
          "transform": [{"filter": "datum.role == 'main'"}],
          "mark": {"type": "text", "align": "left", "fontSize": 15, "color": "#222222"},
          "encoding": {"text": {"field": "text"}}
        },
        {
          "data": {"name": "labels"},
          "transform": [{"filter": "datum.role == 'aug'"}],
          "mark": {"type": "text", "align": "left", "fontSize": 13, "color": "#222222"},
          "encoding": {"text": {"field": "text"}}
        },
        {
          "data": {"name": "labels"},
          "transform": [{"filter": "datum.role == 'sub'"}],
          "mark": {"type": "text", "align": "left", "fontSize": 10.5, "color": "#222222"},
          "encoding": {"text": {"field": "text"}}
        },
        {
          "data": {"name": "labels"},
          "transform": [{"filter": "datum.role == 'key'"}],
          "mark": {"type": "text", "align": "left", "fontSize": 15.5, "color": "#222222"},
          "encoding": {"text": {"field": "text"}}
        },
        {
          "data": {"name": "labels"},
          "transform": [{"filter": "datum.role == 'keyTitle'"}],
          "mark": {"type": "text", "align": "left", "fontSize": 15.5, "fontWeight": "bold", "color": "#222222"},
          "encoding": {"text": {"field": "text"}}
        }
      ]
    },
    {
      "width": 270,
      "height": 260,
      "layer": [
        {
          "data": {"name": "mcm"},
          "mark": {"type": "circle", "size": 26, "color": "#555555", "opacity": 0.47, "stroke": "#333333", "strokeWidth": 0.6},
          "encoding": {
            "x": {
              "field": "x", "type": "quantitative",
              "scale": {"domain": [0, 1], "nice": false},
              "axis": {"values": [0, 0.2, 0.4, 0.6, 0.8, 1], "format": ".1f", "labelPadding": 4, "titlePadding": 5, "title": "Kozak Strength (MCM, no uORFs)"}
            },
            "y": {
              "field": "y", "type": "quantitative",
              "scale": {"domain": [0, 1], "nice": false},
              "axis": {"values": [0, 0.2, 0.4, 0.6, 0.8, 1], "labelExpr": "datum.value == 0 ? '0' : format(datum.value, '.1f')", "labelPadding": 2, "titlePadding": 2, "title": "YFP/mCherry"}
            }
          }
        },
        {
          "data": {"name": "fits"},
          "transform": [{"filter": "datum.panel == 'B'"}],
          "mark": {"type": "rule", "color": "#333333", "strokeWidth": 2},
          "encoding": {
            "x": {"field": "x", "type": "quantitative"},
            "y": {"field": "y", "type": "quantitative"},
            "x2": {"field": "x2"},
            "y2": {"field": "y2"}
          }
        },
        {
          "data": {"values": [{}]},
          "mark": {"type": "text", "align": "left", "fontSize": 14, "fontWeight": "bold", "color": "#222222", "lineBreak": "\n", "lineHeight": 18},
          "encoding": {"x": {"datum": 0.04}, "y": {"datum": 0.935}, "text": {"value": "R² =\n0.216"}}
        },
        {
          "data": {"values": [{}]},
          "mark": {"type": "text", "align": "left", "fontSize": 19, "fontWeight": "bold", "color": "#111111"},
          "encoding": {"x": {"datum": -0.2}, "y": {"datum": 1.0615}, "text": {"value": "B."}}
        }
      ]
    },
    {
      "width": 240,
      "height": 261,
      "view": {"stroke": "#dcdcdc"},
      "encoding": {
        "x": {
          "field": "n", "type": "quantitative",
          "scale": {"domain": [-0.5, 7.5], "nice": false, "zero": false},
          "axis": {"values": [0, 1, 2, 3, 4, 5, 6, 7], "tickCount": 8, "format": "d", "grid": false, "labelOverlap": false, "labelBound": false, "labelFontSize": 18, "tickSize": 6, "labelPadding": 4, "titlePadding": 1, "title": "# uAUGs"}
        }
      },
      "layer": [
        {
          "data": {"name": "boxes"},
          "mark": {"type": "rule", "color": "#595959", "strokeWidth": 1.6},
          "encoding": {
            "y": {
              "field": "lo", "type": "quantitative",
              "scale": {"domain": [0, 1], "nice": false},
              "axis": {"values": [0, 0.2, 0.4, 0.6, 0.8, 1], "labelExpr": "datum.value == 0 ? '0' : format(datum.value, '.1f')", "labelFontSize": 18, "labelPadding": 2, "titlePadding": 0, "title": "YFP/mCherry"}
            },
            "y2": {"field": "hi"}
          }
        },
        {
          "data": {"name": "boxes"},
          "mark": {"type": "tick", "orient": "horizontal", "size": 12, "thickness": 1.6, "color": "#595959", "opacity": 1},
          "encoding": {"y": {"field": "hi", "type": "quantitative"}}
        },
        {
          "data": {"name": "boxes"},
          "mark": {"type": "tick", "orient": "horizontal", "size": 12, "thickness": 1.6, "color": "#595959", "opacity": 1},
          "encoding": {"y": {"field": "lo", "type": "quantitative"}}
        },
        {
          "data": {"name": "boxes"},
          "mark": {"type": "bar", "orient": "vertical", "size": 24, "stroke": "#595959", "strokeWidth": 1.6},
          "encoding": {
            "y": {"field": "q1", "type": "quantitative"},
            "y2": {"field": "q3"},
            "color": {
              "field": "n", "type": "ordinal",
              "scale": {"domain": [0, 1, 2, 3, 4, 5, 6, 7], "range": ["#f6ea17", "#f7a11c", "#e2232a", "#e2232a", "#e2232a", "#e2232a", "#e2232a", "#e2232a"]},
              "legend": null
            }
          }
        },
        {
          "data": {"name": "boxes"},
          "mark": {"type": "tick", "orient": "horizontal", "size": 24, "thickness": 2, "color": "#595959", "opacity": 1},
          "encoding": {"y": {"field": "med", "type": "quantitative"}}
        },
        {
          "data": {"name": "outliers"},
          "mark": {"type": "circle", "size": 10, "color": "#444444", "opacity": 0.9},
          "encoding": {"y": {"field": "y", "type": "quantitative"}}
        },
        {
          "data": {"name": "brackets"},
          "mark": {"type": "rule", "color": "#4a4a4a", "strokeWidth": 1.3},
          "encoding": {"x2": {"field": "to"}, "y": {"field": "y", "type": "quantitative"}}
        },
        {
          "data": {"name": "bracketTicks"},
          "mark": {"type": "rule", "color": "#4a4a4a", "strokeWidth": 1.3, "y2Offset": 5},
          "encoding": {"y": {"field": "y", "type": "quantitative"}, "y2": {"field": "y"}}
        },
        {
          "data": {"name": "brackets"},
          "mark": {"type": "text", "align": "right", "dx": -2, "dy": 7, "baseline": "alphabetic", "fontSize": 12, "color": "#444444"},
          "encoding": {"y": {"field": "y", "type": "quantitative"}, "text": {"field": "stars"}}
        }
      ]
    },
    {
      "width": 281,
      "height": 255,
      "layer": [
        {
          "data": {"name": "lsm"},
          "mark": {"type": "circle", "size": 26, "color": "#555555", "opacity": 0.47, "stroke": "#333333", "strokeWidth": 0.6},
          "encoding": {
            "x": {
              "field": "x", "type": "quantitative",
              "scale": {"domain": [0, 1], "range": [11, 281], "nice": false},
              "axis": {"values": [0, 0.2, 0.4, 0.6, 0.8, 1], "format": ".1f", "labelPadding": 6, "titlePadding": 3, "title": "Kozak Strength (LSM)"}
            },
            "y": {
              "field": "y", "type": "quantitative",
              "scale": {"domain": [0, 1], "nice": false},
              "axis": {"values": [0, 0.2, 0.4, 0.6, 0.8, 1], "labelExpr": "datum.value == 0 ? '0' : format(datum.value, '.1f')", "offset": -11, "labelPadding": 2, "titlePadding": 8, "title": "YFP/mCherry"}
            }
          }
        },
        {
          "data": {"name": "fits"},
          "transform": [{"filter": "datum.panel == 'D'"}],
          "mark": {"type": "rule", "color": "#333333", "strokeWidth": 2},
          "encoding": {
            "x": {"field": "x", "type": "quantitative"},
            "y": {"field": "y", "type": "quantitative"},
            "x2": {"field": "x2"},
            "y2": {"field": "y2"}
          }
        },
        {
          "data": {"values": [{}]},
          "mark": {"type": "text", "align": "left", "fontSize": 14, "fontWeight": "bold", "color": "#222222", "lineBreak": "\n", "lineHeight": 17},
          "encoding": {"x": {"datum": 0.033}, "y": {"datum": 0.945}, "text": {"value": "R² =\n0.492"}}
        },
        {
          "data": {"values": [{}]},
          "mark": {"type": "text", "align": "left", "fontSize": 19, "fontWeight": "bold", "color": "#111111"},
          "encoding": {"x": {"datum": -0.222}, "y": {"datum": 1.098}, "text": {"value": "D."}}
        }
      ]
    }
  ],
  "columns": 2,
  "bounds": "flush",
  "spacing": {"row": 80, "column": 55},
  "resolve": {"scale": {"color": "independent"}}
}
